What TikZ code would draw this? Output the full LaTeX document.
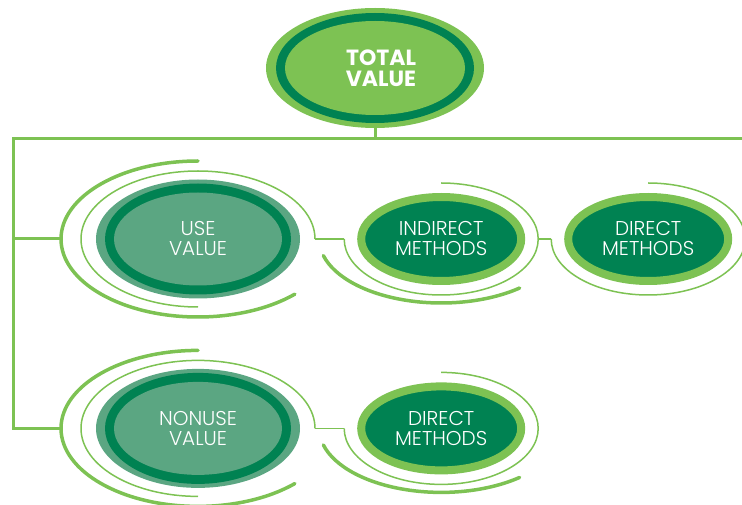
\documentclass[tikz,border=0pt]{standalone}
\usepackage{fontspec}
\setmainfont{Poppins}
\newfontfamily\thinface{Poppins Light}
\usepackage{tikz}
\usetikzlibrary{shapes,positioning,calc}

\definecolor{leafgreen}{RGB}{125,194,83}
\definecolor{deepgreen}{RGB}{0,130,82}
\definecolor{sagegreen}{RGB}{91,166,130}

\begin{document}
\begin{tikzpicture}[x=1pt, y=1pt,
    trunk/.style={leafgreen, line width=3pt},
    thinarc/.style={leafgreen, line width=1.5pt},
    thickarc/.style={leafgreen, line width=3.5pt, line cap=round},
    totalnode/.style={ellipse, fill=leafgreen, minimum width=218, minimum height=120, inner sep=0,
        text=white, align=center, font=\bfseries\fontsize{22}{21.5}\selectfont,
        path picture={
            \fill[deepgreen] (path picture bounding box.center) ellipse [x radius=99, y radius=55];
            \fill[leafgreen] (path picture bounding box.center) ellipse [x radius=90, y radius=47];
        }},
    valuenode/.style={ellipse, fill=sagegreen, minimum width=204, minimum height=119, inner sep=0,
        text=white, align=center, font=\thinface\fontsize{20}{20}\selectfont,
        path picture={
            \fill[deepgreen] (path picture bounding box.center) ellipse [x radius=93, y radius=55.5];
            \fill[sagegreen] (path picture bounding box.center) ellipse [x radius=84, y radius=46.5];
        }},
    methodnode/.style={ellipse, fill=deepgreen, draw=leafgreen, line width=8pt,
        minimum width=160, minimum height=84, inner sep=0,
        text=white, align=center, font=\thinface\fontsize{20}{20}\selectfont}]
    \useasboundingbox (0,0) rectangle (742,504);
    \clip (0,0) rectangle (742,504);

    % the nodes
    \node [totalnode] (total) at (375,436) {\hspace*{12pt}TOTAL\\\hspace*{12pt}VALUE};
    \node [valuenode] (use) at (198,265) {USE\\VALUE};
    \node [valuenode, below=70 of use] (nonuse) {NONUSE\\VALUE};
    \node [methodnode, right=57 of use] (indirect) {INDIRECT\\METHODS};
    \node [methodnode, right=39 of indirect] (direct) {DIRECT\\METHODS};
    \node [methodnode, right=57 of nonuse] (nudirect) {DIRECT\\METHODS};

    % rings round the value nodes
    \foreach \v in {use,nonuse} {
        \draw[thickarc] (\v.center) ++(90:137 and 78) arc[start angle=90, end angle=315, x radius=137, y radius=78];
        \draw[thinarc] (\v.center) ++(0:117 and 68) arc[start angle=0, end angle=270, x radius=117, y radius=68];
        \coordinate (\v-hook) at ($(\v.center)+(-137,0)$);
        \coordinate (\v-out) at ($(\v.center)+(117,0)$);
    }

    % rings round the method nodes
    \foreach \m in {indirect,direct,nudirect} {
        \draw[thinarc] (\m.center) ++(180:97 and 56) arc[start angle=180, end angle=450, x radius=97, y radius=56];
        \coordinate (\m-in) at ($(\m.center)+(-97,0)$);
        \coordinate (\m-out) at ($(\m.center)+(97,0)$);
    }
    \foreach \m in {indirect,nudirect}
        \draw[thickarc] (\m.center) ++(195:122 and 64) arc[start angle=195, end angle=310, x radius=122, y radius=64];

    % tree lines
    \coordinate (rail-left) at (13.5,365);
    \coordinate (rail-right) at (742,365);
    \draw[trunk] (total.south) -- (total.south |- rail-left);
    \draw[trunk] (rail-right) -- (rail-left) |- (use-hook);
    \draw[trunk] (rail-left) |- (nonuse-hook);

    % links between rings
    \draw[thinarc] (use-out) -- (indirect-in);
    \draw[thinarc] (indirect-out) -- (direct-in);
    \draw[thinarc] (nonuse-out) -- (nudirect-in);
\end{tikzpicture}
\end{document}
